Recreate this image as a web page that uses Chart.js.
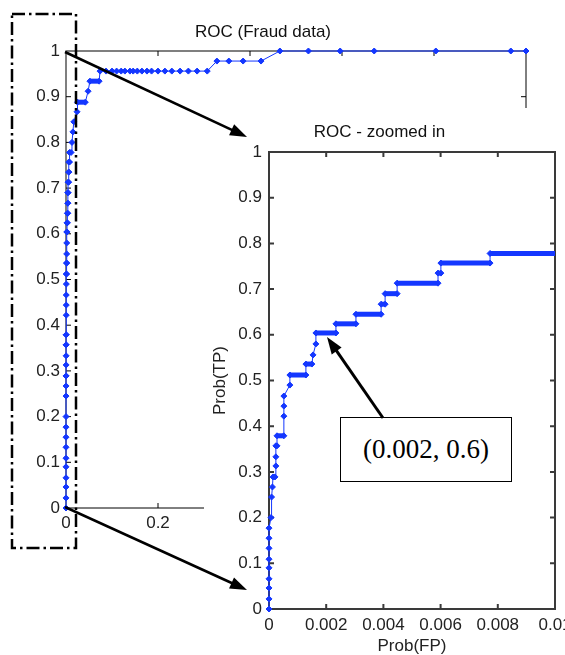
<!DOCTYPE html>
<html lang="en">
<head>
  <meta charset="UTF-8">
  <title>ROC (Fraud data)</title>
  <script src="https://cdn.jsdelivr.net/npm/chart.js"></script>
  <style>
    body { margin: 0; background: #fff; }
    #wrap { position: relative; width: 565px; height: 655px; overflow: hidden; }
    #main { position: absolute; left: 0; top: 0; }
    #zoom { position: absolute; left: 204px; top: 108px; background: #fff; }
    #note {
      position: absolute; left: 340px; top: 417px; width: 172px; height: 65px;
      box-sizing: border-box; border: 1.5px solid #000; background: #fff;
      font: 27px 'Liberation Serif', 'Times New Roman', serif;
      display: flex; align-items: center; justify-content: center;
    }
    #marks { position: absolute; left: 0; top: 0; pointer-events: none; }
  </style>
</head>
<body>
<div id="wrap">
  <canvas id="main" width="565" height="655"></canvas>
  <canvas id="zoom" width="361" height="547"></canvas>
  <div id="note">(0.002, 0.6)</div>
  <svg id="marks" width="565" height="655"></svg>
</div>

<script>
  // ROC curve points (Prob(FP), Prob(TP))
  const fp = [
    0, 0, 0, 0, 0, 0, 0, 0, 0,
    0.00007, 0.00009, 0.00012, 0.00014, 0.00021, 0.00024, 0.00024, 0.00024, 0.00028,
    0.00028, 0.00052, 0.00052, 0.00052, 0.00052, 0.00073, 0.00073, 0.00129, 0.00129,
    0.0015, 0.00154, 0.00164, 0.00164, 0.00234, 0.00234, 0.00304, 0.00304, 0.00392,
    0.00392, 0.00406, 0.00406, 0.00448, 0.00448, 0.00591, 0.00591, 0.00601, 0.00601,
    0.00773, 0.00773, 0.011,
    0.013, 0.015, 0.017, 0.024, 0.025, 0.042, 0.048, 0.052, 0.072,
    0.074, 0.087, 0.1, 0.11, 0.12, 0.128, 0.139, 0.146, 0.155, 0.165, 0.176, 0.186,
    0.2, 0.215, 0.23, 0.248, 0.266, 0.285, 0.307,
    0.328, 0.354, 0.385, 0.424,
    0.465, 0.527, 0.596, 0.67, 0.804, 0.967, 1.0
  ];
  const tp = [
    0, 0.022, 0.046, 0.066, 0.09, 0.109, 0.133, 0.155, 0.177,
    0.2, 0.245, 0.267, 0.289, 0.289, 0.313, 0.333, 0.357, 0.357,
    0.379, 0.379, 0.422, 0.444, 0.466, 0.49, 0.512, 0.512, 0.536,
    0.536, 0.556, 0.58, 0.604, 0.604, 0.624, 0.624, 0.645, 0.645,
    0.667, 0.667, 0.69, 0.69, 0.713, 0.713, 0.735, 0.735, 0.757,
    0.757, 0.778, 0.778,
    0.8, 0.823, 0.845, 0.867, 0.888, 0.888, 0.912, 0.934, 0.934,
    0.956, 0.956, 0.956, 0.956, 0.956, 0.956, 0.956, 0.956, 0.956, 0.956, 0.956, 0.956,
    0.956, 0.956, 0.956, 0.956, 0.956, 0.956, 0.956,
    0.978, 0.978, 0.978, 0.978,
    1, 1, 1, 1, 1, 1, 1
  ];
  const mainTitle = 'ROC (Fraud data)';
  const zoomTitle = 'ROC - zoomed in';
  const xLabel = 'Prob(FP)';
  const yLabel = 'Prob(TP)';

  const blue = 'rgb(20,55,255)';
  const fontFamily = "'Liberation Sans', Arial, sans-serif";
  const points = fp.map((x, i) => ({ x: x, y: tp[i] }));

  // MATLAB-style box with inward ticks
  const matlabAxes = {
    id: 'matlabAxes',
    beforeDatasetsDraw(chart, args, opts) {
      const { ctx, chartArea: a, scales: { x, y } } = chart;
      const len = 5;
      ctx.save();
      ctx.strokeStyle = opts.color;
      ctx.lineWidth = opts.width;
      ctx.strokeRect(a.left, a.top, a.right - a.left, a.bottom - a.top);
      ctx.beginPath();
      x.ticks.forEach(t => {
        const px = x.getPixelForValue(t.value);
        if (px <= a.left + 1 || px >= a.right - 1) return;
        ctx.moveTo(px, a.bottom); ctx.lineTo(px, a.bottom - len);
        ctx.moveTo(px, a.top); ctx.lineTo(px, a.top + len);
      });
      y.ticks.forEach(t => {
        const py = y.getPixelForValue(t.value);
        if (py <= a.top + 1 || py >= a.bottom - 1) return;
        ctx.moveTo(a.left, py); ctx.lineTo(a.left + len, py);
        ctx.moveTo(a.right, py); ctx.lineTo(a.right - len, py);
      });
      ctx.stroke();
      ctx.restore();
    }
  };

  function rocDataset(denseLimit, clip) {
    return {
      data: points,
      showLine: true,
      borderColor: blue,
      backgroundColor: blue,
      borderWidth: 1,
      pointStyle: 'rectRot',
      pointRadius: 3,
      pointBorderWidth: 1,
      clip: clip,
      segment: {
        // plateaus made of many overlapping points look like a thick band
        borderWidth: c => (tp[c.p0DataIndex] === tp[c.p1DataIndex] &&
          fp[c.p0DataIndex] < denseLimit) ? 5 : 1
      }
    };
  }

  function axisOpts(min, max, step, pad, size, title) {
    return {
      type: 'linear', min: min, max: max,
      ticks: {
        stepSize: step, padding: pad, color: '#222',
        font: { family: fontFamily, size: 17 },
        callback: v => String(+v.toFixed(4))
      },
      grid: { display: false, drawTicks: false },
      border: { display: false },
      title: title || { display: false },
      afterFit: s => {
        if (s.isHorizontal()) s.height = size; else s.width = size;
        s.paddingLeft = s.paddingRight = s.paddingTop = s.paddingBottom = 0;
      }
    };
  }

  new Chart(document.getElementById('main'), {
    type: 'scatter',
    data: { datasets: [rocDataset(0.07, false)] },
    options: {
      responsive: false,
      animation: false,
      layout: { padding: { right: 39 }, autoPadding: false },
      plugins: {
        legend: { display: false },
        tooltip: { enabled: false },
        title: {
          display: true, text: mainTitle, color: '#111',
          font: { family: fontFamily, size: 17, weight: 'normal' },
          padding: { top: 22, bottom: 8.6 }
        },
        matlabAxes: { color: '#000', width: 1 }
      },
      scales: {
        x: axisOpts(0, 1, 0.2, 5, 147),
        y: axisOpts(0, 1, 0.1, 6, 66)
      }
    },
    plugins: [matlabAxes]
  });

  new Chart(document.getElementById('zoom'), {
    type: 'scatter',
    data: { datasets: [rocDataset(1, { left: 4, top: 0, right: 0, bottom: 4 })] },
    options: {
      responsive: false,
      animation: false,
      layout: { padding: { right: 10 }, autoPadding: false },
      plugins: {
        legend: { display: false },
        tooltip: { enabled: false },
        title: {
          display: true, text: zoomTitle, color: '#111',
          font: { family: fontFamily, size: 17, weight: 'normal' },
          padding: { top: 14, bottom: 9.6 }
        },
        matlabAxes: { color: '#3a3a3a', width: 2 }
      },
      scales: {
        x: axisOpts(0, 0.01, 0.002, 6, 46, {
          display: true, text: xLabel, color: '#222',
          font: { family: fontFamily, size: 17, lineHeight: 1 }, padding: { top: 0, bottom: 0 }
        }),
        y: axisOpts(0, 1, 0.1, 7, 65, {
          display: true, text: yLabel, color: '#222',
          font: { family: fontFamily, size: 17, lineHeight: 1 }, padding: { top: 7.5, bottom: 0 }
        })
      }
    },
    plugins: [matlabAxes]
  });

  // dash-dot frame and arrows drawn on top
  const svg = document.getElementById('marks');
  const NS = 'http://www.w3.org/2000/svg';
  function el(name, attrs) {
    const e = document.createElementNS(NS, name);
    for (const k in attrs) e.setAttribute(k, attrs[k]);
    svg.appendChild(e);
  }
  el('rect', { x: 12, y: 14, width: 64, height: 534, fill: 'none', stroke: '#000',
    'stroke-width': 2.5, 'stroke-dasharray': '13 4 2.5 4' });

  function arrow(x1, y1, x2, y2, w, headL, headW) {
    const L = Math.hypot(x2 - x1, y2 - y1), ux = (x2 - x1) / L, uy = (y2 - y1) / L;
    const bx = x2 - ux * headL, by = y2 - uy * headL;
    el('line', { x1: x1, y1: y1, x2: bx + ux * 2, y2: by + uy * 2, stroke: '#000', 'stroke-width': w });
    el('polygon', {
      points: [x2, y2, bx - uy * headW / 2, by + ux * headW / 2, bx + uy * headW / 2, by - ux * headW / 2].join(' '),
      fill: '#000'
    });
  }
  arrow(65, 52, 247, 137, 2.6, 17, 12);
  arrow(65, 507, 247, 590, 2.6, 17, 12);
  arrow(383, 418, 327, 337, 3, 17, 12);
</script>
</body>
</html>
